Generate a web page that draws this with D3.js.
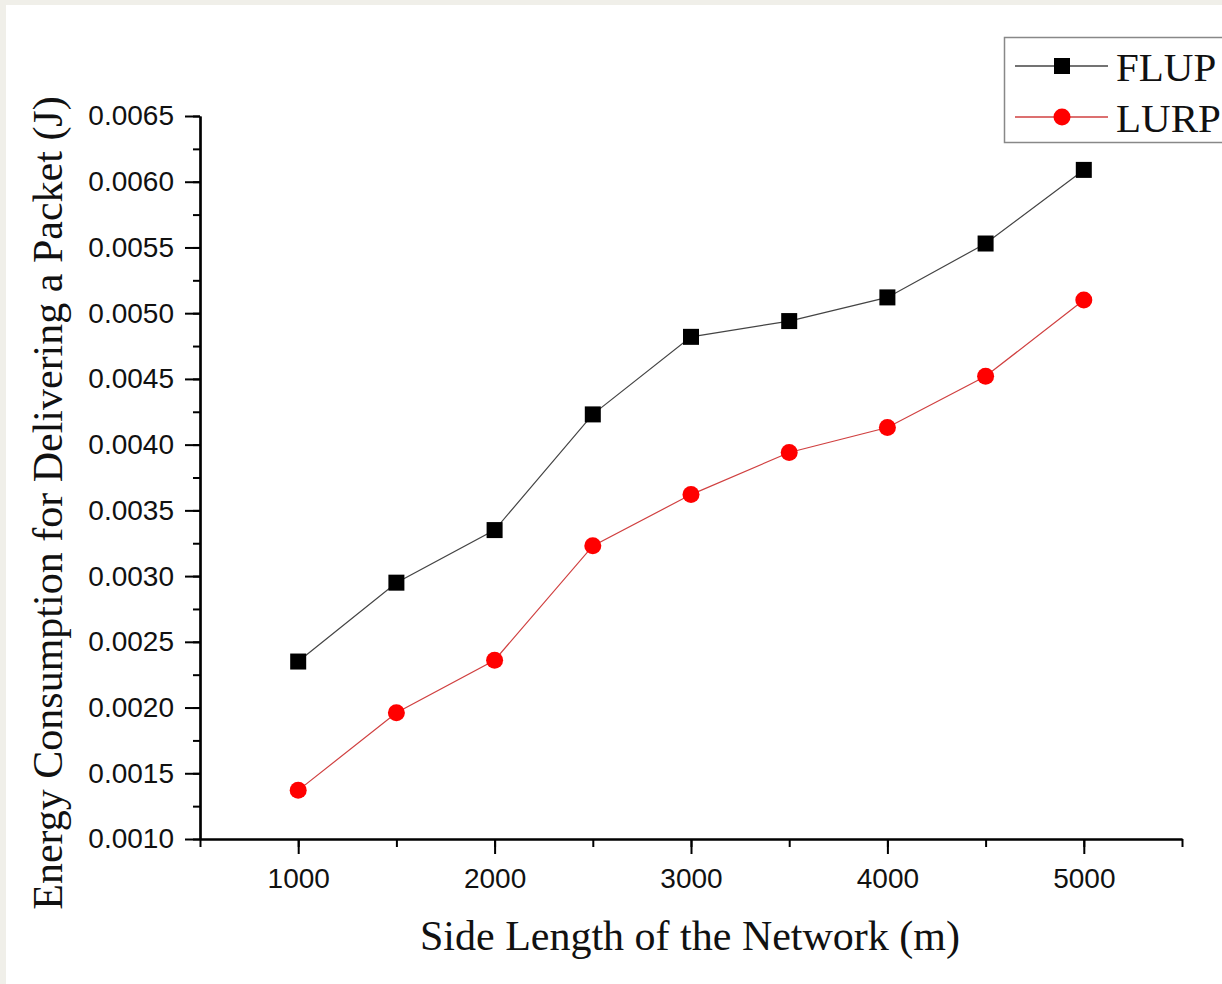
<!DOCTYPE html>
<html>
<head>
<meta charset="utf-8">
<script src="https://cdn.jsdelivr.net/npm/d3@7"></script>
<style>
  html, body { margin: 0; padding: 0; background: #f0efe9; }
  svg { display: block; }
  .tick text { font-family: "Liberation Sans", Arial, sans-serif; }
</style>
</head>
<body>
<script>
// side length of the network (m)
var sideLengths = [1000, 1500, 2000, 2500, 3000, 3500, 4000, 4500, 5000];
// energy consumption per delivered packet (J)
var flupValues = [0.00235, 0.00295, 0.00335, 0.00423, 0.00482, 0.00494, 0.00512, 0.00553, 0.00609];
var lurpValues = [0.00137, 0.00196, 0.00236, 0.00323, 0.00362, 0.00394, 0.00413, 0.00452, 0.00510];
var xTicks = [1000, 2000, 3000, 4000, 5000];
var yTicks = [0.0010, 0.0015, 0.0020, 0.0025, 0.0030, 0.0035, 0.0040, 0.0045, 0.0050, 0.0055, 0.0060, 0.0065];

var series = [
  {name: 'FLUP', values: flupValues, color: '#000', line: '#444', symbol: 'square'},
  {name: 'LURP', values: lurpValues, color: '#f00', line: '#d04040', symbol: 'circle'}
];

var width = 1222, height = 984;
var serif = '"Liberation Serif", "Times New Roman", serif';

var svg = d3.select('body').append('svg')
  .attr('width', width)
  .attr('height', height);

// white page over the faded border
svg.append('rect')
  .attr('x', 6).attr('y', 5)
  .attr('width', width - 6).attr('height', height - 5)
  .attr('fill', '#fff');

var x = d3.scaleLinear().domain([500, 5500]).range([200, 1182]);
var y = d3.scaleLinear().domain([0.0010, 0.0065]).range([839, 116]);

function styleAxis(g) {
  g.selectAll('path.domain').attr('stroke', '#000').attr('stroke-width', 2.2);
  g.selectAll('.tick line').attr('stroke', '#000').attr('stroke-width', 2);
  g.selectAll('.tick text').attr('fill', '#111').attr('font-size', 28);
}

// minor ticks
svg.append('g')
  .attr('transform', 'translate(0,839)')
  .call(d3.axisBottom(x).tickValues(d3.range(500, 5501, 500)).tickSize(8).tickFormat('').tickSizeOuter(0))
  .call(styleAxis);
svg.append('g')
  .attr('transform', 'translate(200,0)')
  .call(d3.axisLeft(y).tickValues(d3.range(0.0010, 0.00651, 0.00025)).tickSize(7).tickFormat('').tickSizeOuter(0))
  .call(styleAxis);

// major ticks
svg.append('g')
  .attr('transform', 'translate(0,839)')
  .call(d3.axisBottom(x).tickValues(xTicks).tickSize(15).tickPadding(14).tickFormat(d3.format('d')).tickSizeOuter(0))
  .call(styleAxis);
svg.append('g')
  .attr('transform', 'translate(200,0)')
  .call(d3.axisLeft(y).tickValues(yTicks).tickSize(15).tickPadding(11).tickFormat(d3.format('.4f')).tickSizeOuter(0))
  .call(styleAxis);

// axis titles
svg.append('text')
  .attr('x', 690).attr('y', 950)
  .attr('text-anchor', 'middle')
  .attr('font-family', serif)
  .attr('font-size', 42)
  .attr('fill', '#111')
  .text('Side Length of the Network (m)');

svg.append('text')
  .attr('transform', 'translate(62,503) rotate(-90)')
  .attr('text-anchor', 'middle')
  .attr('font-family', serif)
  .attr('font-size', 42)
  .attr('fill', '#111')
  .text('Energy Consumption for Delivering a Packet (J)');

var line = d3.line()
  .x(function(d, i) { return x(sideLengths[i]); })
  .y(function(d) { return y(d); });

function drawSymbol(g, s, cx, cy) {
  if (s.symbol === 'square') {
    g.append('rect')
      .attr('x', cx - 8).attr('y', cy - 8)
      .attr('width', 16).attr('height', 16)
      .attr('fill', s.color);
  } else {
    g.append('circle')
      .attr('cx', cx).attr('cy', cy).attr('r', 8.5)
      .attr('fill', s.color);
  }
}

series.forEach(function(s) {
  var g = svg.append('g');
  g.append('path')
    .datum(s.values)
    .attr('d', line)
    .attr('fill', 'none')
    .attr('stroke', s.line)
    .attr('stroke-width', 1.2);
  s.values.forEach(function(v, i) {
    drawSymbol(g, s, x(sideLengths[i]), y(v));
  });
});

// legend
var legend = svg.append('g');
legend.append('rect')
  .attr('x', 1004.5).attr('y', 37.5)
  .attr('width', 240).attr('height', 105)
  .attr('fill', '#fff')
  .attr('stroke', '#888')
  .attr('stroke-width', 1.5);

series.forEach(function(s, i) {
  var ly = 66 + i * 51;
  legend.append('line')
    .attr('x1', 1015).attr('x2', 1108)
    .attr('y1', ly).attr('y2', ly)
    .attr('stroke', s.line)
    .attr('stroke-width', 1.5);
  drawSymbol(legend, s, 1062, ly);
  legend.append('text')
    .attr('x', 1116).attr('y', ly + 15)
    .attr('font-family', serif)
    .attr('font-size', 41)
    .attr('fill', '#111')
    .text(s.name);
});
</script>
</body>
</html>
